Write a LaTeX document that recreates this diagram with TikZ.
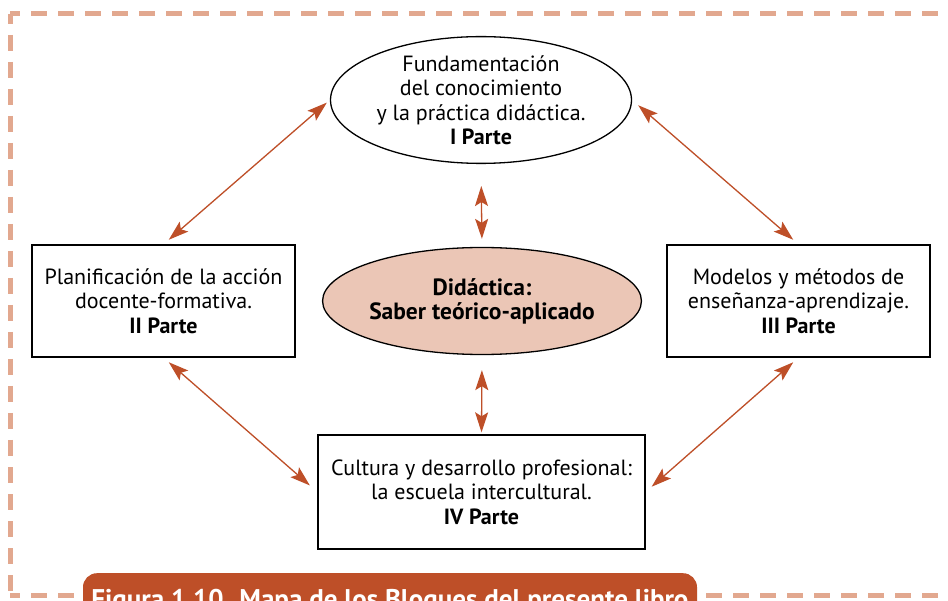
\documentclass[tikz,border=0pt]{standalone}
\usepackage{fontspec}
\setmainfont{PT Sans}
\usetikzlibrary{positioning,arrows.meta,shapes.geometric}
\definecolor{ladrillo}{HTML}{BE4F28}
\definecolor{salmon}{HTML}{E2A88F}
\definecolor{rosa}{HTML}{EBC6B6}

\begin{document}
\begin{tikzpicture}[x=1pt,y=-1pt,>={Stealth[length=20pt,width=13pt,inset=4pt]},
  bloque/.style={draw,line width=1.3pt,align=center,minimum width=263pt,minimum height=112pt,inner sep=0pt,font=\fontsize{22}{24.5}\selectfont},
  elipse/.style={ellipse,draw,line width=1.3pt,align=center,inner sep=0pt,font=\fontsize{22}{24.5}\selectfont},
  flecha/.style={<->,ladrillo,line width=1.3pt},
  marco/.style={salmon,line width=5pt,dash pattern=on 16pt off 11pt,dash phase=6pt}]
\useasboundingbox (0,0) rectangle (948,601);
\clip (0,0) rectangle (948,601);
\fill[white] (0,0) rectangle (948,601);

% marco punteado
\draw[marco] (10,14) -- (10,610);
\draw[marco] (10,14) -- (960,14);
\draw[marco] (10,595) -- (960,595);

% bloques
\node[elipse,minimum width=301pt,minimum height=108pt] (Fund) at (481,100) {Fundamentación\\del conocimiento\\y la práctica didáctica.\\\textbf{I Parte}};
\node[elipse,fill=rosa,minimum width=296pt,minimum height=107pt,font=\fontsize{23.5}{24}\selectfont\bfseries] (Dida) at (482,301) {Didáctica:\\Saber teórico-aplicado};
\node[bloque] (Plan) at (163.5,301) {Planificación de la acción\\docente-formativa.\\\textbf{II Parte}};
\node[bloque] (Mode) at (798.5,301) {Modelos y métodos de\\enseñanza-aprendizaje.\\\textbf{III Parte}};
\node[bloque,minimum width=327pt,minimum height=114pt] (Cult) at (481.5,492) {Cultura y desarrollo profesional:\\la escuela intercultural.\\\textbf{IV Parte}};

% conexiones
\draw[flecha,shorten <=7pt,shorten >=4pt] (Plan.north) -- (Fund.west);
\draw[flecha,shorten <=7pt,shorten >=8pt] (Mode.north) -- (Fund.east);
\draw[flecha,shorten <=7pt,shorten >=10pt] (Plan.south) -- (Cult.west);
\draw[flecha,shorten <=7pt,shorten >=8pt] (Mode.south) -- (Cult.east);
\draw[flecha,shorten <=22pt,shorten >=8pt] (Fund.south) -- (Dida.north);
\draw[flecha,shorten <=15pt,shorten >=2pt] (Dida.south) -- (Cult.north);

% pie de figura
\node[anchor=north,fill=ladrillo,rounded corners=14pt,minimum width=614pt,text height=19pt,text depth=14pt,inner ysep=16pt,text=white,font=\fontsize{27}{30}\selectfont\bfseries] (Pie) at (390,573) {Figura 1.10. Mapa de los Bloques del presente libro};
\end{tikzpicture}
\end{document}
